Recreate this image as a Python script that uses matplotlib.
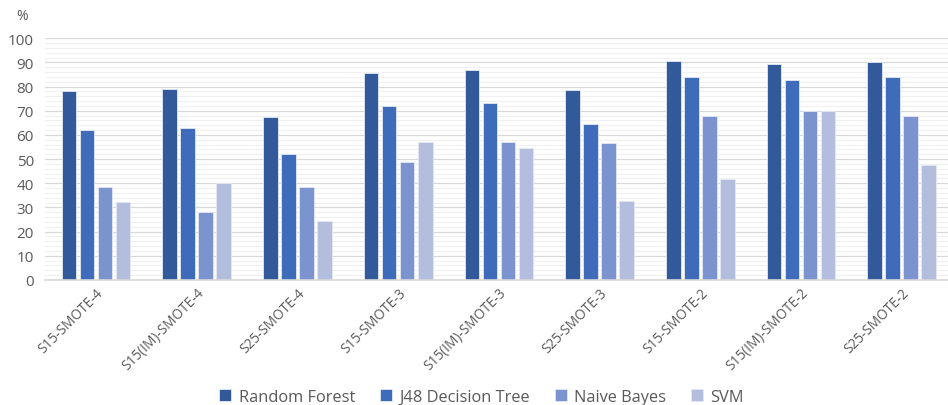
import matplotlib

matplotlib.use("Agg")
import matplotlib.pyplot as plt
import numpy as np
from matplotlib.ticker import MultipleLocator

plt.rcParams["font.family"] = ["Open Sans", "DejaVu Sans"]

configs = ["S15-SMOTE-4", "S15(IM)-SMOTE-4", "S25-SMOTE-4",
           "S15-SMOTE-3", "S15(IM)-SMOTE-3", "S25-SMOTE-3",
           "S15-SMOTE-2", "S15(IM)-SMOTE-2", "S25-SMOTE-2"]
classifiers = ["Random Forest", "J48 Decision Tree", "Naive Bayes", "SVM"]

random_forest = [78.1, 79.2, 67.4, 85.7, 86.8, 78.8, 90.5, 89.4, 90.1]
j48_tree = [62.0, 62.7, 52.3, 71.8, 73.3, 64.7, 84.0, 82.9, 84.0]
naive_bayes = [38.3, 28.2, 38.3, 49.0, 57.1, 56.6, 67.9, 70.1, 67.9]
svm = [32.1, 40.1, 24.5, 57.1, 54.5, 32.5, 41.6, 70.1, 47.6]

series = [random_forest, j48_tree, naive_bayes, svm]
colors = ["#325A9B", "#3F6CBA", "#7B94D0", "#B3BEDF"]

fig = plt.figure(figsize=(9.48, 4.06), dpi=100)
ax = fig.add_axes([45 / 948, 125 / 406, 903 / 948, 241.7 / 406])

x = np.arange(len(configs))
pitch = 0.179
width = 0.145
for i, (vals, c, name) in enumerate(zip(series, colors, classifiers)):
    ax.bar(x + (i - 1.5) * pitch, vals, width=width, color=c,
           edgecolor="#E4E8F4", linewidth=0.6, label=name, zorder=3)

ax.set_xlim(-0.507, 8.46)
ax.set_ylim(0, 100)
ax.yaxis.set_major_locator(MultipleLocator(10))
ax.yaxis.set_minor_locator(MultipleLocator(2))
ax.grid(axis="y", which="major", color="#D9D9D9", lw=0.9, zorder=0)
ax.grid(axis="y", which="minor", color="#F0F0F0", lw=0.8, zorder=0)
ax.tick_params(axis="y", which="both", length=0, labelsize=11,
               labelcolor="#595959", pad=8)
ax.tick_params(axis="x", length=0, labelsize=9.8, labelcolor="#595959")
ax.set_xticks(x)
ax.set_xticklabels(configs, rotation=45, ha="right", rotation_mode="anchor")
for s in ("top", "right", "left"):
    ax.spines[s].set_visible(False)
ax.spines["bottom"].set_color("#D9D9D9")
ax.spines["bottom"].set_linewidth(1.2)
ax.spines["bottom"].set_zorder(4)

fig.text(22 / 948, 1 - 16 / 406, "%", fontsize=10, color="#595959",
         ha="center", va="center")

fig.legend(loc="center", bbox_to_anchor=(0.508, 1 - 398 / 406), ncol=4,
           frameon=False, fontsize=11.8, handlelength=0.75, handleheight=0.75,
           handletextpad=0.45, columnspacing=1.5, labelcolor="#595959")

fig.savefig("out.png", dpi=100)
